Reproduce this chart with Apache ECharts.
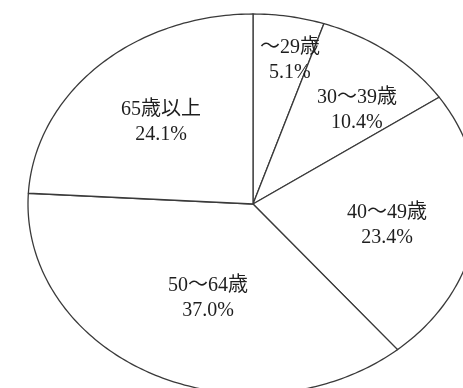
<!DOCTYPE html>
<html><head><meta charset="utf-8">
<script src="https://cdn.jsdelivr.net/npm/echarts@6/dist/echarts.min.js"></script>
<style>html,body{margin:0;padding:0;background:#fff}#c{width:463px;height:388px}</style>
</head><body><div id="c"></div>
<script>
const categories = ['～29歳', '30～39歳', '40～49歳', '50～64歳', '65歳以上'];
const shares = [5.1, 10.4, 23.4, 37.0, 24.1];
const pctLabels = ['5.1%', '10.4%', '23.4%', '37.0%', '24.1%'];
// label placement: [angle in degrees clockwise from top, radius fraction]
const labelPlace = [[12.2, 0.776], [43, 0.677], [100.5, 0.606], [202, 0.534], [316.6, 0.595]];

const total = shares.reduce((a, b) => a + b, 0);
const cum = [];
shares.reduce((acc, v, i) => { cum[i] = acc; return acc + v; }, 0);

const chart = echarts.init(document.getElementById('c'), null, {renderer: 'canvas'});
chart.setOption({
  backgroundColor: '#ffffff',
  animation: false,
  grid: {left: 28, top: 14, right: -15, bottom: -6, containLabel: false, outerBoundsMode: 'none'},
  xAxis: {type: 'value', min: -1, max: 1, show: false},
  yAxis: {type: 'value', min: -1, max: 1, show: false},
  series: [{
    type: 'custom',
    clip: false,
    data: shares.map((v, i) => [i, v]),
    renderItem: function (params, api) {
      const i = params.dataIndex;
      const a0 = cum[i] / total * 2 * Math.PI;
      const a1 = (cum[i] + shares[i]) / total * 2 * Math.PI;
      const pts = [api.coord([0, 0])];
      const n = Math.max(2, Math.ceil((a1 - a0) / (Math.PI / 180)));
      for (let k = 0; k <= n; k++) {
        const a = a0 + (a1 - a0) * k / n;
        pts.push(api.coord([Math.sin(a), Math.cos(a)]));
      }
      const lp = labelPlace[i];
      const la = lp[0] * Math.PI / 180;
      const lc = api.coord([lp[1] * Math.sin(la), lp[1] * Math.cos(la)]);
      return {
        type: 'group',
        children: [{
          type: 'polygon',
          shape: {points: pts},
          style: {fill: '#ffffff', stroke: '#3a3a3a', lineWidth: 1.3, lineJoin: 'round'}
        }, {
          type: 'text',
          z2: 10,
          style: {
            text: categories[i] + '\n' + pctLabels[i],
            x: lc[0], y: lc[1],
            align: 'center', verticalAlign: 'middle',
            fontSize: 20, lineHeight: 25,
            fontFamily: '"Liberation Serif", "DejaVu Serif", "Noto Sans CJK JP", serif',
            fill: '#1e1e1e'
          }
        }]
      };
    }
  }]
});
</script></body></html>
